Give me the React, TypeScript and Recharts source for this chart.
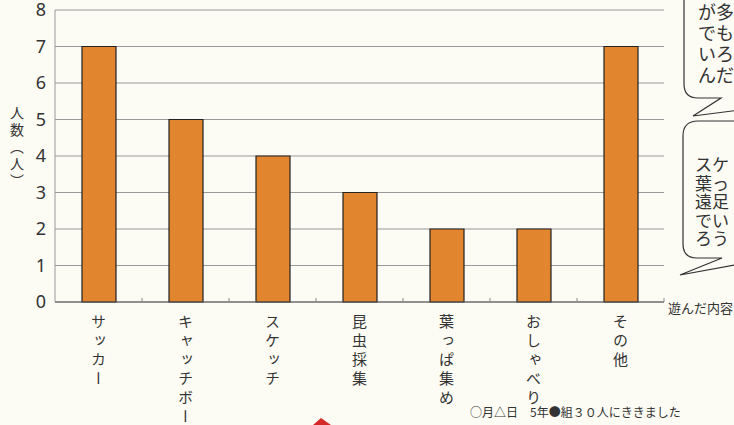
import React from 'react';
import { BarChart, Bar, XAxis, YAxis, CartesianGrid } from 'recharts';

const categories = ['サッカー', 'キャッチボール', 'スケッチ', '昆虫採集', '葉っぱ集め', 'おしゃべり', 'その他'];
const counts = [7, 5, 4, 3, 2, 2, 7];
const yTicks = [0, 1, 2, 3, 4, 5, 6, 7, 8];
const yAxisTitle = '人数（人）';
const xAxisTitle = '遊んだ内容';
const footnote = '○月△日　5年●組３０人にききました';
const bubble1Lines = ['が多', 'でも', 'いろ', 'んだ'];
const bubble2Lines = ['スケ', '葉っ', '遠足', 'でい', 'ろう'];

const data = categories.map((c, i) => ({ name: c, value: counts[i] }));

const JP = '"Noto Sans CJK JP", "Noto Sans", sans-serif';

const XTick = (props: any) => {
  const { x, y, payload } = props;
  const off = payload && payload.offset != null ? payload.offset : 43.5;
  return (
    <g>
      <line x1={x + off} x2={x + off} y1={y} y2={y - 4} stroke="#888" strokeWidth={1} />
      <text
        x={x}
        y={y + 12}
        fill="#333"
        fontSize={15}
        fontFamily={JP}
        style={{ writingMode: 'vertical-rl', letterSpacing: '4px' } as any}
      >
        {payload.value}
      </text>
    </g>
  );
};

const YTick = (props: any) => {
  const { x, y, payload } = props;
  return (
    <text x={x} y={y + 6} textAnchor="end" fill="#333" fontSize={18} fontFamily='"Noto Sans", sans-serif'>
      {payload.value}
    </text>
  );
};

export default function App() {
  return (
    <div style={{ position: 'absolute', left: 0, top: 0, width: 734, height: 425, overflow: 'hidden', background: '#fcfbf4' }}>
      <BarChart
        width={734}
        height={425}
        data={data}
        margin={{ top: 10, right: 70, left: 0, bottom: 0 }}
      >
        <CartesianGrid vertical={false} stroke="#999" strokeWidth={1} />
        <XAxis
          dataKey="name"
          interval={0}
          tickLine={false}
          tickSize={0}
          tickMargin={0}
          axisLine={{ stroke: '#555', strokeWidth: 1.2 }}
          tick={<XTick />}
          height={123}
        />
        <YAxis
          domain={[0, 8]}
          ticks={yTicks}
          interval={0}
          width={55}
          tickLine={false}
          tickSize={0}
          tickMargin={9}
          axisLine={{ stroke: '#999', strokeWidth: 1 }}
          tick={<YTick />}
          label={{
            content: () => (
              <text
                x={17}
                y={106}
                fill="#333"
                fontSize={14}
                fontFamily={JP}
                style={{ writingMode: 'vertical-rl', letterSpacing: '3px' } as any}
              >
                {yAxisTitle}
              </text>
            ),
          }}
        />
        <Bar dataKey="value" fill="#E2852F" stroke="#222" strokeWidth={1.2} barSize={34} isAnimationActive={false} />
      </BarChart>
      <svg width={734} height={425} style={{ position: 'absolute', left: 0, top: 0, pointerEvents: 'none' }}>
        <text x={668} y={313} fontSize={13} fill="#333" fontFamily={JP}>{xAxisTitle}</text>
        <text x={470} y={417} fontSize={12} fill="#333" fontFamily={JP}>{footnote}</text>
        <path
          d="M 760 -20 L 684 -20 L 684 84 Q 684 98 698 98 L 721 98 L 693 116 L 740 110"
          fill="#fcfbf4"
          stroke="#333"
          strokeWidth={1.2}
        />
        {bubble1Lines.map((t, i) => (
          <text key={t} x={698} y={19 + i * 21} fontSize={18} fill="#333" fontFamily={JP}>{t}</text>
        ))}
        <path
          d="M 740 121 L 698 121 Q 683 121 683 136 L 683 244 Q 683 258 697 258 L 722 258 L 680 275 L 740 264"
          fill="#fcfbf4"
          stroke="#333"
          strokeWidth={1.2}
        />
        {bubble2Lines.map((t, i) => (
          <text key={t} x={695} y={171 + i * 18.5} fontSize={17} fill="#333" fontFamily={JP}>{t}</text>
        ))}
        <polygon points="313,425 321,418 331,425" fill="#d42a2a" />
      </svg>
    </div>
  );
}
